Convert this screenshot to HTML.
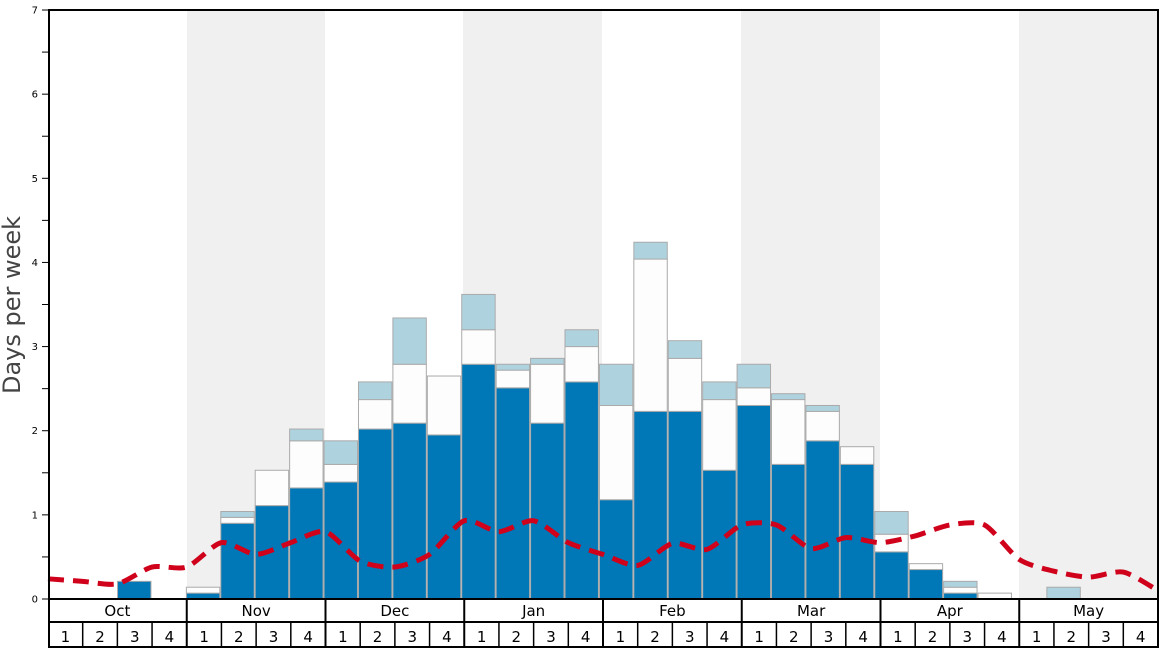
<!DOCTYPE html><html><head><style>body{margin:0;background:#fff}svg{display:block;font-family:"DejaVu Sans","Liberation Sans",sans-serif}</style></head><body>
<svg id="s" width="1168" height="648" xmlns="http://www.w3.org/2000/svg"></svg>
<script>
const s=document.getElementById('s');let h='';
const X0=48,W=1110/32,BW=34.42,Y0=599,U=84.14;
const y=v=>Y0-v*U;
[[187,325],[463,602],[741,880],[1019,1158]].forEach(r=>h+=`<rect x="${r[0]}" y="10" width="${r[1]-r[0]}" height="589" fill="#f0f0f0"/>`);
const d=[[],[],[0.21],[],[0.07,0.14],[0.9,0.97,1.04],[1.11,1.53],[1.32,1.88,2.02],[1.39,1.6,1.88],[2.02,2.37,2.58],[2.09,2.79,3.34],[1.95,2.65],[2.79,3.2,3.62],[2.51,2.72,2.79],[2.09,2.79,2.86],[2.58,3.0,3.2],[1.18,2.3,2.79],[2.23,4.04,4.24],[2.23,2.86,3.07],[1.53,2.37,2.58],[2.3,2.51,2.79],[1.6,2.37,2.44],[1.88,2.23,2.3],[1.6,1.81],[0.56,0.77,1.04],[0.35,0.42],[0.07,0.14,0.21],[0,0.07],[],[0,0,0.14],[],[]];
const col=['#0077b6','#fdfdfd','#aed3df'];
d.forEach((a,i)=>{const x=48.2+i*BW;let prev=0;a.forEach((v,k)=>{if(v>prev){h+=`<rect x="${x+0.5}" y="${y(v)}" width="${BW-1}" height="${(v-prev)*U}" fill="${col[k]}" stroke="#aaa" stroke-width="1"/>`;}prev=Math.max(prev,v);});});
const L=[0.24,0.21,0.18,0.38,0.38,0.67,0.53,0.67,0.8,0.45,0.38,0.53,0.93,0.8,0.93,0.67,0.53,0.4,0.66,0.59,0.88,0.88,0.6,0.73,0.67,0.75,0.88,0.88,0.47,0.33,0.26,0.32,0.1];
const P=L.map((v,i)=>[X0+i*W,y(v)]);
let p=`M${P[0][0]},${P[0][1]}`;
for(let i=0;i<P.length-1;i++){const p0=P[Math.max(0,i-1)],p1=P[i],p2=P[i+1],p3=P[Math.min(P.length-1,i+2)];
p+=` C${p1[0]+(p2[0]-p0[0])/8},${p1[1]+(p2[1]-p0[1])/8} ${p2[0]-(p3[0]-p1[0])/8},${p2[1]-(p3[1]-p1[1])/8} ${p2[0]},${p2[1]}`;}
h+=`<path d="${p}" fill="none" stroke="#d0021b" stroke-width="5" stroke-dasharray="16,9"/>`;
h+=`<rect x="49" y="10" width="1109" height="589" fill="none" stroke="#000" stroke-width="2"/>`;
for(let v=0;v<=7;v+=0.5){const yy=y(v);h+=`<line x1="42" x2="48" y1="${yy}" y2="${yy}" stroke="#000"/>`;if(v%1==0)h+=`<text x="38" y="${yy+3.5}" font-size="10" text-anchor="end">${v}</text>`;}
h+=`<line x1="48" x2="1158" y1="622" y2="622" stroke="#000" stroke-width="2"/><line x1="48" x2="1158" y1="647" y2="647" stroke="#000" stroke-width="2"/>`;
h+=`<line x1="49" x2="49" y1="599" y2="648" stroke="#000" stroke-width="2"/><line x1="1158" x2="1158" y1="599" y2="648" stroke="#000" stroke-width="2"/>`;
const M=['Oct','Nov','Dec','Jan','Feb','Mar','Apr','May'];
M.forEach((m,i)=>{const x=X0+i*W*4;if(i>0)h+=`<line x1="${x}" x2="${x}" y1="599" y2="648" stroke="#000" stroke-width="2"/>`;h+=`<text x="${x+W*2}" y="616" font-size="15" text-anchor="middle">${m}</text>`;
for(let k=0;k<4;k++){const xx=x+k*W;if(k>0)h+=`<line x1="${xx}" x2="${xx}" y1="622" y2="648" stroke="#000" stroke-width="1.5"/>`;h+=`<text x="${xx+W/2}" y="642" font-size="15" text-anchor="middle">${k+1}</text>`;}});
h+=`<text transform="translate(20,305) rotate(-90)" font-size="24" fill="#444" text-anchor="middle">Days per week</text>`;
s.innerHTML=h;
</script></body></html>
